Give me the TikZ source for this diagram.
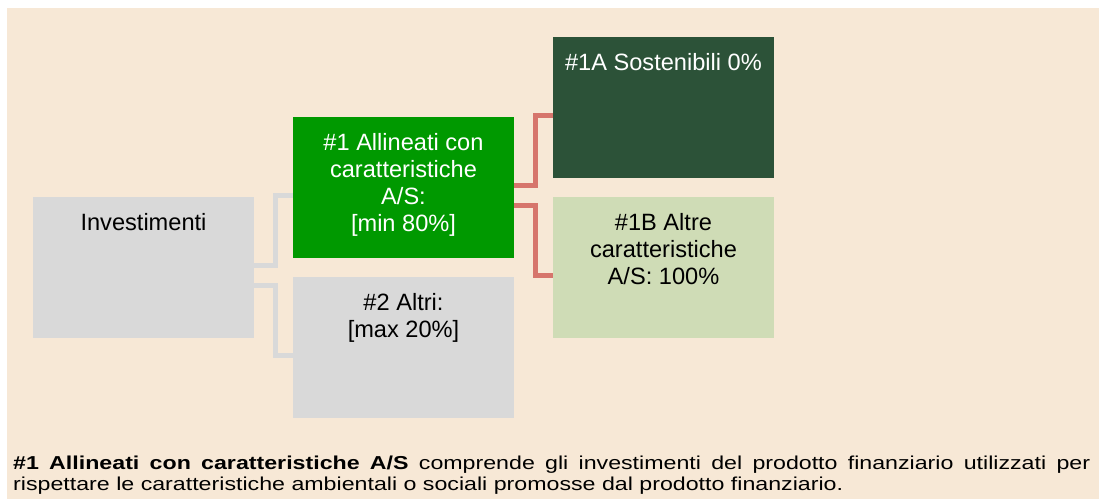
\documentclass[tikz,border=0pt]{standalone}
\usepackage{graphicx}
\usepackage{fontspec}
\setmainfont{Liberation Sans}
\definecolor{bgbeige}{HTML}{F7E8D6}
\definecolor{boxgrey}{HTML}{D9D9D9}
\definecolor{boxgreen}{HTML}{009900}
\definecolor{boxdark}{HTML}{2C5238}
\definecolor{boxlight}{HTML}{CFDCB6}
\definecolor{connred}{HTML}{D6756C}
\newcommand{\boxtext}[1]{\parbox[c][140.7pt][t]{221pt}{\centering\fontsize{23.6}{27.2}\selectfont\rule{0pt}{33pt}#1\par}}
\begin{document}
\begin{tikzpicture}[x=1pt,y=-1pt,
  boxbase/.style={inner sep=0pt,outer sep=0pt,anchor=north west},
  greyconn/.style={draw=boxgrey,line width=4.7pt},
  redconn/.style={draw=connred,line width=4.7pt}]
\useasboundingbox (0,0) rectangle (1104,499);
\fill[bgbeige] (7,8) rectangle (1099,499);
\node[boxbase,fill=boxgrey,text=black] (inv) at (33,197) {\boxtext{Investimenti}};
\node[boxbase,fill=boxgreen,text=white] (a1) at (293,117) {\boxtext{\#1 Allineati con\\caratteristiche\\A/S:\\{[}min 80\%{]}}};
\node[boxbase,fill=boxgrey,text=black] (a2) at (293,277) {\boxtext{\#2 Altri:\\{[}max 20\%{]}}};
\node[boxbase,fill=boxdark,text=white] (s1a) at (553,37) {\boxtext{\#1A Sostenibili 0\%}};
\node[boxbase,fill=boxlight,text=black] (s1b) at (553,197) {\boxtext{\#1B Altre\\caratteristiche\\A/S: 100\%}};
\draw[greyconn] ([yshift=2pt]inv.east) -- ++(21.3,0) |- ([yshift=-8pt]a1.west);
\draw[greyconn] ([yshift=-18pt]inv.east) -- ++(21.3,0) |- ([yshift=-8pt]a2.west);
\draw[redconn] ([yshift=2pt]a1.east) -- ++(21.3,0) |- ([yshift=-8pt]s1a.west);
\draw[redconn] ([yshift=-18pt]a1.east) -- ++(21.3,0) |- ([yshift=-8pt]s1b.west);
\node[inner sep=0pt,anchor=base west] (note) at (13,469.3) {\scalebox{1.24}[1]{\parbox[t]{868.5pt}{\fontsize{18.7}{21}\selectfont\textbf{\#1 Allineati con caratteristiche A/S} comprende gli investimenti del prodotto finanziario utilizzati per\linebreak rispettare le caratteristiche ambientali o sociali promosse dal prodotto finanziario.}}};
\end{tikzpicture}
\end{document}
